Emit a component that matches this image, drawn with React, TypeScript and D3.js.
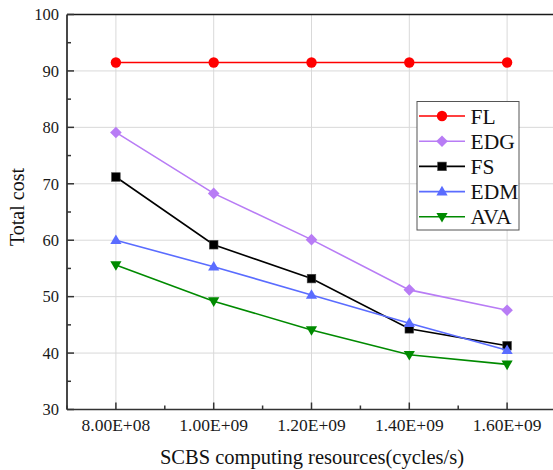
import React from "react";
import * as d3 from "d3";

const xValues = [8e8, 1e9, 1.2e9, 1.4e9, 1.6e9];
const xTickLabels = ["8.00E+08", "1.00E+09", "1.20E+09", "1.40E+09", "1.60E+09"];
const yTicks = [30, 40, 50, 60, 70, 80, 90, 100];

const FL = [91.5, 91.5, 91.5, 91.5, 91.5];
const EDG = [79.1, 68.3, 60.1, 51.2, 47.6];
const FS = [71.2, 59.2, 53.2, 44.3, 41.3];
const EDM = [60.0, 55.3, 50.3, 45.3, 40.5];
const AVA = [55.6, 49.2, 44.1, 39.7, 38.0];

const seriesNames = ["FL", "EDG", "FS", "EDM", "AVA"];
const seriesData = [FL, EDG, FS, EDM, AVA];
const seriesColors = ["#ff0000", "#b87cf5", "#000000", "#5a6cff", "#008a00"];
const seriesSymbols = ["circle", "diamond", "square", "up", "down"];

const W = 553;
const H = 470;
const left = 67;
const right = 556;
const top = 14.5;
const bottom = 409.5;

const font = "'Liberation Serif', 'Times New Roman', serif";

function Marker({ kind, x, y, color }: { kind: string; x: number; y: number; color: string }) {
  if (kind === "circle") return <circle cx={x} cy={y} r={5.2} fill={color} />;
  if (kind === "square")
    return <rect x={x - 4.3} y={y - 4.3} width={8.6} height={8.6} fill={color} stroke="#444" strokeWidth={0.6} />;
  if (kind === "diamond")
    return <path d={`M${x},${y - 5.8}L${x + 5.8},${y}L${x},${y + 5.8}L${x - 5.8},${y}Z`} fill={color} />;
  if (kind === "up")
    return <path d={`M${x},${y - 5.8}L${x + 5.6},${y + 3.8}L${x - 5.6},${y + 3.8}Z`} fill={color} />;
  return <path d={`M${x},${y + 5.8}L${x + 5.6},${y - 3.8}L${x - 5.6},${y - 3.8}Z`} fill={color} />;
}

export default function App() {
  const x = d3.scaleLinear().domain([7e8, 1.7e9]).range([left, right]);
  const y = d3.scaleLinear().domain([30, 100]).range([bottom, top]);
  const line = d3
    .line<number>()
    .x((_, i) => x(xValues[i]))
    .y((d) => y(d));

  const minorX = [7e8, 9e8, 1.1e9, 1.3e9, 1.5e9, 1.7e9];
  const minorY = [35, 45, 55, 65, 75, 85, 95];

  const legX = 417;
  const legY = 101.5;
  const legW = 102;
  const legH = 128.5;
  const rowH = 25.2;

  return (
    <svg width={W} height={H} style={{ position: "absolute", left: 0, top: 0, background: "#fff" }}>
      <rect width={W} height={H} fill="#fff" />
      {/* grid */}
      {xValues.map((v, i) => (
        <line key={"gx" + i} x1={x(v)} x2={x(v)} y1={top} y2={bottom} stroke="#d9d9d9" strokeWidth={1} />
      ))}
      {yTicks.slice(1, -1).map((v, i) => (
        <line key={"gy" + i} x1={left} x2={right} y1={y(v)} y2={y(v)} stroke="#d9d9d9" strokeWidth={1} />
      ))}
      {/* frame */}
      <line x1={left} x2={right} y1={top} y2={top} stroke="#1a1a1a" strokeWidth={1.6} />
      <line x1={left} x2={left} y1={top} y2={bottom} stroke="#1a1a1a" strokeWidth={1.6} />
      <line x1={left} x2={right} y1={bottom} y2={bottom} stroke="#333" strokeWidth={1.6} />
      {/* ticks */}
      {xValues.map((v, i) => (
        <line key={"tx" + i} x1={x(v)} x2={x(v)} y1={bottom} y2={bottom - 7} stroke="#333" strokeWidth={1.5} />
      ))}
      {minorX.map((v, i) => (
        <line key={"mx" + i} x1={x(v)} x2={x(v)} y1={bottom} y2={bottom - 4} stroke="#333" strokeWidth={1.5} />
      ))}
      {yTicks.map((v, i) => (
        <line key={"ty" + i} x1={left} x2={left + 7} y1={y(v)} y2={y(v)} stroke="#333" strokeWidth={1.5} />
      ))}
      {minorY.map((v, i) => (
        <line key={"my" + i} x1={left} x2={left + 4} y1={y(v)} y2={y(v)} stroke="#333" strokeWidth={1.5} />
      ))}
      {/* tick labels */}
      {yTicks.map((v, i) => (
        <text key={"ly" + i} x={59} y={y(v)} dy="0.35em" textAnchor="end" fontFamily={font} fontSize={16.5} fill="#1a1a1a">
          {v}
        </text>
      ))}
      {xValues.map((v, i) => (
        <text key={"lx" + i} x={x(v)} y={431} textAnchor="middle" fontFamily={font} fontSize={17.5} fill="#1a1a1a">
          {xTickLabels[i]}
        </text>
      ))}
      {/* axis titles */}
      <text x={312} y={463.5} textAnchor="middle" fontFamily={font} fontSize={20.5} fill="#111">
        SCBS computing resources(cycles/s)
      </text>
      <text
        transform={`translate(24,207) rotate(-90)`}
        textAnchor="middle"
        fontFamily={font}
        fontSize={20}
        fill="#111"
      >
        Total cost
      </text>
      {/* series */}
      {seriesData.map((data, s) => (
        <g key={"s" + s}>
          <path d={line(data) || ""} fill="none" stroke={seriesColors[s]} strokeWidth={1.6} />
          {data.map((d, i) => (
            <Marker key={i} kind={seriesSymbols[s]} x={x(xValues[i])} y={y(d)} color={seriesColors[s]} />
          ))}
        </g>
      ))}
      {/* legend */}
      <rect x={legX} y={legY} width={legW} height={legH} fill="#fff" stroke="#555" strokeWidth={1} />
      {seriesNames.map((name, s) => {
        const cy = legY + 14.5 + s * rowH;
        return (
          <g key={"lg" + s}>
            <line x1={legX + 2} x2={legX + 48} y1={cy} y2={cy} stroke={seriesColors[s]} strokeWidth={1.6} />
            <Marker kind={seriesSymbols[s]} x={legX + 25} y={cy} color={seriesColors[s]} />
            <text x={legX + 53.5} y={cy} dy="0.35em" fontFamily={font} fontSize={21.5} fill="#111">
              {name}
            </text>
          </g>
        );
      })}
    </svg>
  );
}
